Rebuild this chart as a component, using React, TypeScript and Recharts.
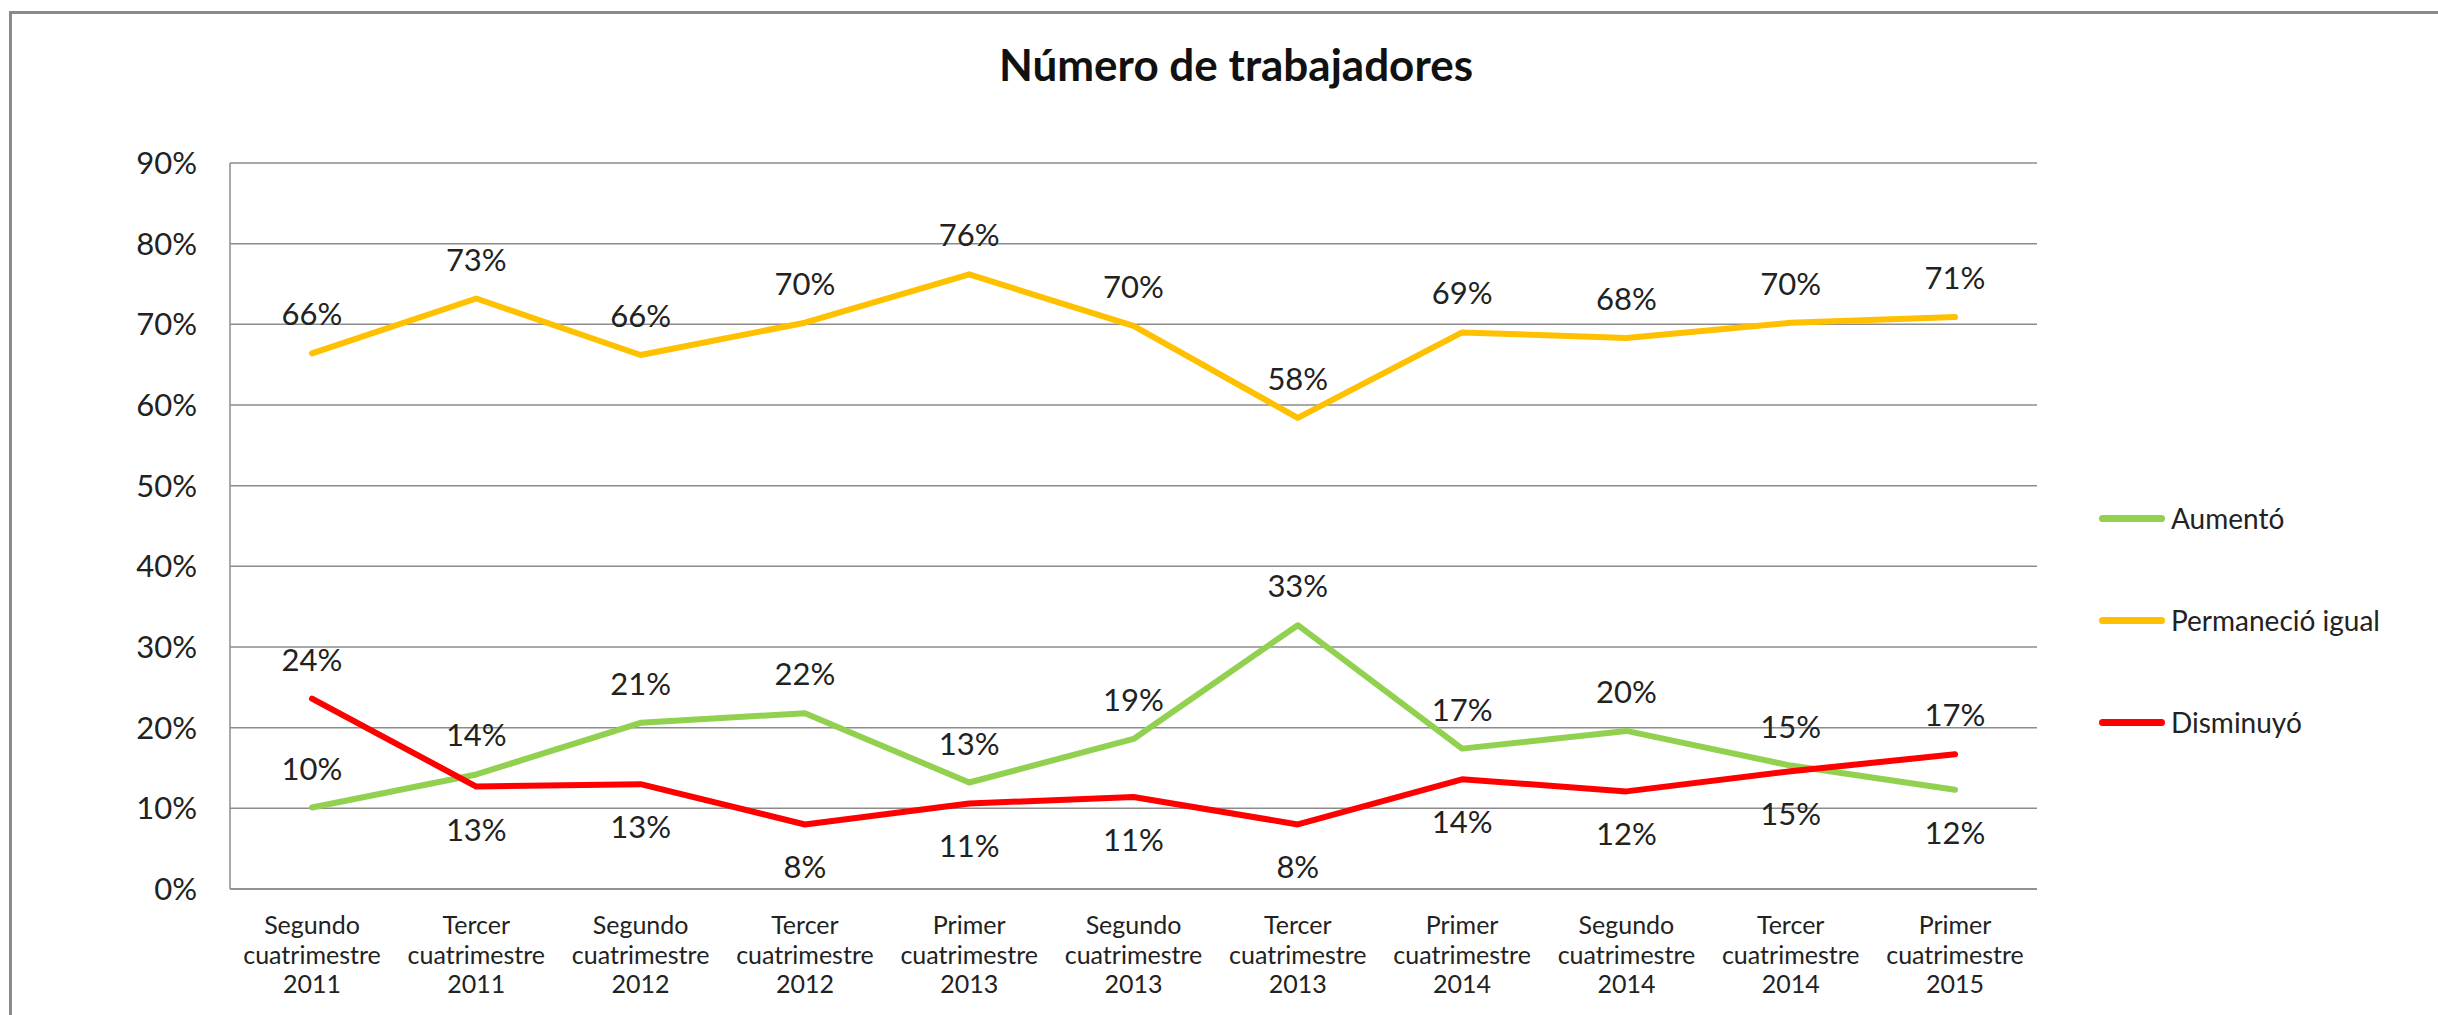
import { CartesianGrid, LabelList, Line, LineChart, XAxis, YAxis } from "recharts";

const FONT = "Lato, 'Open Sans', sans-serif";
const W = 2438;
const H = 1015;

const CATEGORIES = [
  "Segundo cuatrimestre 2011",
  "Tercer cuatrimestre 2011",
  "Segundo cuatrimestre 2012",
  "Tercer cuatrimestre 2012",
  "Primer cuatrimestre 2013",
  "Segundo cuatrimestre 2013",
  "Tercer cuatrimestre 2013",
  "Primer cuatrimestre 2014",
  "Segundo cuatrimestre 2014",
  "Tercer cuatrimestre 2014",
  "Primer cuatrimestre 2015",
];
const AUMENTO = [0.101, 0.142, 0.206, 0.218, 0.132, 0.186, 0.327, 0.174, 0.196, 0.153, 0.123];
const PERMANECIO = [0.664, 0.732, 0.662, 0.702, 0.762, 0.698, 0.584, 0.69, 0.683, 0.702, 0.709];
const DISMINUYO = [0.236, 0.127, 0.13, 0.08, 0.106, 0.114, 0.08, 0.136, 0.121, 0.146, 0.167];
const Y_TICKS = [0, 0.1, 0.2, 0.3, 0.4, 0.5, 0.6, 0.7, 0.8, 0.9];

const SERIES = [
  { key: "aumento", name: "Aumentó", color: "#92D050" },
  { key: "permanecio", name: "Permaneció igual", color: "#FFC000" },
  { key: "disminuyo", name: "Disminuyó", color: "#FF0000" },
];

const data = CATEGORIES.map((c, i) => ({
  category: c,
  aumento: AUMENTO[i],
  permanecio: PERMANECIO[i],
  disminuyo: DISMINUYO[i],
}));

const pct = (v: number) => `${Math.round(v * 100)}%`;

function CategoryTick({ x, y, payload }: any) {
  const words = String(payload.value).split(" ");
  return (
    <g transform={`translate(${x},${y})`}>
      {words.map((w, i) => (
        <text
          key={i}
          x={0}
          y={35 + i * 29.5}
          textAnchor="middle"
          dominantBaseline="central"
          fontSize={25}
          fontFamily={FONT}
          fill="#222"
        >
          {w}
        </text>
      ))}
    </g>
  );
}

// which labels Excel put under the line
const makeLabel = (below: (i: number) => boolean) => (props: any) => {
  const { x, y, value, index } = props;
  const dy = below(index) ? 42 : -40;
  return (
    <text
      x={x}
      y={y + dy}
      textAnchor="middle"
      dominantBaseline="central"
      fontSize={31}
      fontFamily={FONT}
      fill="#222"
    >
      {pct(value)}
    </text>
  );
};

const labelFor: Record<string, (props: any) => any> = {
  aumento: makeLabel((i) => i === CATEGORIES.length - 1),
  permanecio: makeLabel(() => false),
  disminuyo: makeLabel((i) => i !== 0 && i !== CATEGORIES.length - 1),
};

export default function App() {
  return (
    <div style={{ position: "absolute", left: 0, top: 0, width: W, height: H, overflow: "hidden", background: "#fff" }}>
      <div
        style={{
          position: "absolute",
          left: 9,
          top: 11,
          width: W,
          height: H,
          borderLeft: "3px solid #8a8a8a",
          borderTop: "3px solid #8a8a8a",
        }}
      />
      <div
        style={{
          position: "absolute",
          left: 0,
          width: 2472,
          top: 38,
          textAlign: "center",
          fontFamily: FONT,
          fontWeight: 700,
          fontSize: 44,
          color: "#111",
        }}
      >
        Número de trabajadores
      </div>
      <div style={{ position: "absolute", left: 0, top: 0 }}>
        <LineChart width={W} height={H} data={data} margin={{ top: 163, right: 401, bottom: 6, left: 130 }}>
          <CartesianGrid vertical={false} stroke="#8c8c8c" strokeWidth={1.5} />
          <XAxis
            dataKey="category"
            interval={0}
            height={120}
            tickSize={0}
            tickMargin={0}
            padding={{ left: 82, right: 82 }}
            stroke="#8c8c8c"
            strokeWidth={1.5}
            tick={<CategoryTick />}
          />
          <YAxis
            domain={[0, 0.9]}
            ticks={Y_TICKS}
            width={100}
            tickFormatter={pct}
            tickSize={0}
            tickMargin={33}
            stroke="#8c8c8c"
            strokeWidth={1.5}
            tick={{ fontSize: 31, fontFamily: FONT, fill: "#222" }}
          />
          {SERIES.map((s) => (
            <Line
              key={s.key}
              dataKey={s.key}
              name={s.name}
              type="linear"
              stroke={s.color}
              strokeWidth={6}
              strokeLinejoin="round"
              strokeLinecap="round"
              dot={false}
              activeDot={false}
              isAnimationActive={false}
            >
              <LabelList dataKey={s.key} content={labelFor[s.key]} />
            </Line>
          ))}
        </LineChart>
      </div>
      <div style={{ position: "absolute", left: 2099, top: 467 }}>
        {SERIES.map((s) => (
          <div key={s.key} style={{ display: "flex", alignItems: "center", height: 102 }}>
            <div style={{ width: 66, height: 7, borderRadius: 4, background: s.color }} />
            <span style={{ marginLeft: 6, fontFamily: FONT, fontSize: 28, color: "#222" }}>{s.name}</span>
          </div>
        ))}
      </div>
    </div>
  );
}
